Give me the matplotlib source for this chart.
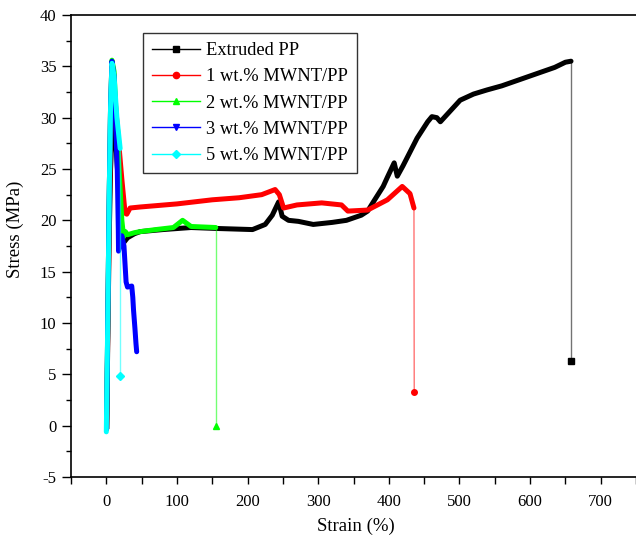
import numpy as np
import matplotlib
matplotlib.use("Agg")
import matplotlib.pyplot as plt
from matplotlib.lines import Line2D
from matplotlib.ticker import MultipleLocator

plt.rcParams['font.family'] = ['Liberation Serif', 'DejaVu Serif']
plt.rcParams['axes.unicode_minus'] = False

# stress-strain curves, last point is the break (vertical drop)
pp_strain = [0.5, 2, 4, 6, 8, 9.3, 11, 14, 18, 22, 24.3, 30, 40, 48, 80, 120, 160, 207,
             225, 235, 244, 249, 258, 272, 293, 320, 340, 361, 370, 380, 392, 398, 407.6,
             412, 420, 440, 455, 461, 468, 473, 485, 501, 520, 539, 560, 585, 610, 635,
             650, 658, 658]
pp_stress = [-0.3, 8, 18, 25, 28.5, 29.9, 29.5, 27, 22.5, 18.5, 17.8, 18.3, 18.7, 18.9,
             19.1, 19.3, 19.2, 19.1, 19.6, 20.5, 21.8, 20.4, 20.0, 19.9, 19.6, 19.8, 20.0,
             20.5, 20.9, 22.0, 23.3, 24.2, 25.6, 24.3, 25.3, 28.0, 29.6, 30.1, 30.0, 29.6,
             30.5, 31.7, 32.3, 32.7, 33.1, 33.7, 34.3, 34.9, 35.4, 35.5, 6.3]

mw1_strain = [0.5, 2, 4, 6, 9, 12, 17, 22, 26.6, 29, 33.7, 48, 100, 150, 188, 220, 239,
              245, 251, 270, 305, 333, 342, 370, 398, 419, 430, 435.6, 436]
mw1_stress = [-0.3, 9, 20, 28, 33.3, 32, 28, 24, 20.7, 20.6, 21.2, 21.3, 21.6, 22.0,
              22.2, 22.5, 23.0, 22.5, 21.2, 21.5, 21.7, 21.5, 20.9, 21.0, 22.0, 23.3,
              22.6, 21.2, 3.3]

mw2_strain = [0.5, 2, 4, 6, 8, 11, 14, 18, 22, 24.5, 27, 30, 40, 48, 70, 95, 108, 120,
              155, 155]
mw2_stress = [-0.3, 10, 22, 31, 35.6, 34.5, 30, 25, 20, 18.4, 18.9, 18.6, 18.8, 18.9,
              19.1, 19.3, 20.0, 19.4, 19.3, 0.0]

mw3_strain = [0.5, 2, 4, 6, 8, 11, 13, 15.5, 17, 17.3, 22, 25, 28, 30, 36, 37.5, 38.5,
              40.5, 42, 43]
mw3_stress = [-0.3, 10, 22, 31, 35.5, 34, 30, 25, 19, 17.0, 18.5, 17.5, 14.0, 13.5,
              13.6, 12.5, 11.3, 9.5, 8.0, 7.2]

mw5_strain = [0, 2, 4, 6, 8, 11, 15, 19.6, 19.6]
mw5_stress = [-0.6, 10, 22, 31, 35.3, 34, 30, 27, 4.8]

labels = ['Extruded PP', '1 wt.% MWNT/PP', '2 wt.% MWNT/PP', '3 wt.% MWNT/PP',
          '5 wt.% MWNT/PP']
colors = ['black', '#ff0000', '#00ff00', '#0000ff', '#00ffff']
markers = ['s', 'o', '^', 'v', 'D']
series = [(pp_strain, pp_stress, True), (mw1_strain, mw1_stress, True),
          (mw2_strain, mw2_stress, True), (mw3_strain, mw3_stress, False),
          (mw5_strain, mw5_stress, True)]

fig = plt.figure(figsize=(6.36, 5.41), dpi=100)
ax = fig.add_axes([71/636, 1-477/541, 1-71/636, (477-15)/541])

handles = []
for (x, y, brk), c, m, lab in zip(series, colors, markers, labels):
    if brk:
        body_x, body_y = x[:-1], y[:-1]
        ax.plot(x[-2:], y[-2:], color=c, lw=1, alpha=0.55)
        ax.plot(x[-1:], y[-1:], color=c, marker=m, ms=4, ls='none')
    else:
        body_x, body_y = x, y
    ax.plot(body_x, body_y, color=c, lw=3.6, solid_joinstyle='round',
            solid_capstyle='round')
    handles.append(Line2D([], [], color=c, lw=1, marker=m, ms=4.5, label=lab))

ax.set_xlim(-50, 750)
ax.set_ylim(-5, 40)
ax.xaxis.set_major_locator(MultipleLocator(100))
ax.xaxis.set_minor_locator(MultipleLocator(50))
ax.yaxis.set_major_locator(MultipleLocator(5))
ax.yaxis.set_minor_locator(MultipleLocator(2.5))
ax.tick_params(which='both', direction='out', width=1, labelsize=12)
ax.tick_params(axis='x', which='both', length=5, pad=7)
ax.tick_params(axis='y', which='major', length=6.5, pad=4)
ax.tick_params(axis='y', which='minor', length=3.5)
ax.tick_params(top=False, right=False)
for s in ax.spines.values():
    s.set_linewidth(1.2)
ax.spines['right'].set_visible(False)

ax.set_xlabel('Strain (%)', fontsize=13.5)
ax.set_ylabel('Stress (MPa)', fontsize=13.5)
ax.xaxis.set_label_coords(0.504, -0.088)
ax.yaxis.set_label_coords(-0.083, 0.537)

leg = ax.legend(handles=handles, loc='upper left', bbox_to_anchor=(0.127, 0.961),
                fontsize=13.3, frameon=True, fancybox=False, handlelength=2.6,
                handletextpad=0.3, labelspacing=0.5, borderpad=0.5,
                borderaxespad=0)
leg.get_frame().set_edgecolor('black')
leg.get_frame().set_linewidth(1.0)

fig.savefig('out.png', dpi=100)
